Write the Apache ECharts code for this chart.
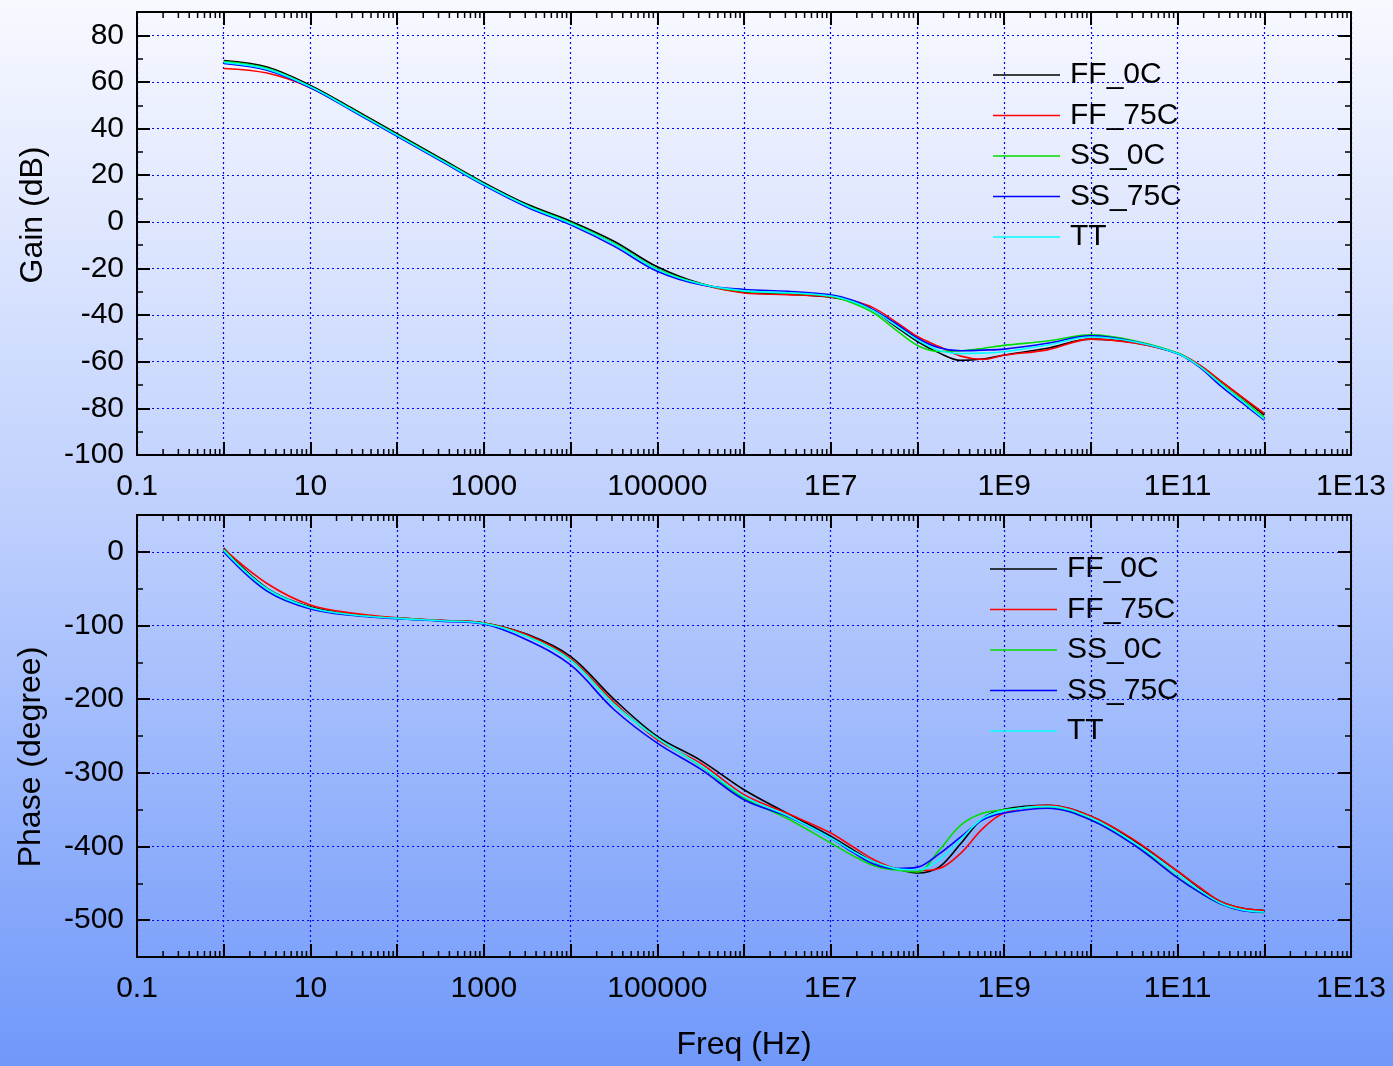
<!DOCTYPE html>
<html><head><meta charset="utf-8">
<script src="https://cdn.jsdelivr.net/npm/echarts@6/dist/echarts.min.js"></script>
<style>html,body{margin:0;padding:0;background:#fff;} #c{width:1393px;height:1066px;}</style>
</head><body><div id="c"></div>
<script>
// ---- data ----
const freq = [1, 3.162, 10, 31.62, 100, 316.2, 1000, 3162, 1e4, 3.162e4, 1e5, 3.162e5, 1e6, 3.162e6, 1e7, 1.778e7, 3.162e7, 5.623e7, 1e8, 1.778e8, 3.162e8, 5.623e8, 1e9, 3.162e9, 1e10, 3.162e10, 1e11, 1.778e11, 3.162e11, 5.623e11, 1e12];
const seriesNames = ['FF_0C', 'FF_75C', 'SS_0C', 'SS_75C', 'TT'];
const seriesColors = ['#000000', '#ff0000', '#00dd00', '#0000ff', '#00ffff'];

const gainFF0  = [69.2, 66.4, 58.5, 48.3, 37.8, 27.3, 16.8, 7.5, 0.3, -8.3, -19.3, -26.5, -30.2, -31.0, -32.3, -34.3, -38.2, -44.9, -51.3, -56.2, -59.4, -58.8, -57.1, -54.2, -50.3, -51.8, -56.4, -61.5, -68.4, -75.5, -82.9];
const gainFF75 = [65.8, 63.8, 57.5, 47.5, 37.0, 26.5, 16.0, 6.7, -0.8, -9.5, -20.5, -26.8, -30.5, -31.2, -32.2, -33.8, -37.0, -42.9, -49.2, -53.5, -57.6, -59.0, -57.2, -54.9, -50.3, -52.0, -56.4, -61.3, -68.3, -75.3, -82.2];
const gainSS0  = [68.8, 65.9, 58.0, 47.8, 37.3, 26.8, 16.3, 7.0, -0.4, -9.2, -20.2, -26.6, -29.8, -30.5, -32.0, -34.8, -39.2, -46.3, -53.0, -55.6, -55.3, -54.3, -53.0, -51.1, -48.5, -51.0, -56.3, -61.8, -69.3, -76.5, -84.0];
const gainSS75 = [67.9, 65.0, 57.5, 47.2, 36.7, 26.2, 15.7, 6.3, -1.3, -10.4, -21.2, -27.0, -29.0, -29.8, -31.3, -33.6, -37.9, -43.6, -49.9, -54.0, -55.3, -55.0, -54.6, -52.1, -48.9, -51.3, -56.6, -62.2, -70.5, -77.8, -85.0];
const gainTT   = [68.4, 65.5, 57.9, 47.6, 37.1, 26.6, 16.1, 6.8, -0.7, -9.5, -20.5, -26.7, -29.6, -30.4, -31.8, -34.2, -38.3, -44.4, -50.6, -55.2, -56.5, -56.3, -55.7, -52.8, -49.4, -51.4, -56.5, -61.9, -69.6, -77.0, -84.6];

const phFF0  = [5, -49.5, -74.5, -85.5, -90, -93, -96.5, -112, -142, -200, -250.5, -283, -323, -355, -386, -404, -421, -430, -436, -428, -396, -362, -349.5, -344, -359, -392, -433.6, -456, -475, -484, -487];
const phFF75 = [4, -43, -72.3, -83.5, -89.5, -93, -96.8, -113, -145, -204, -255, -287, -329.7, -355, -381.6, -400, -418, -430, -433, -430, -409, -376, -354.5, -344, -359, -391, -433.6, -455, -475, -484, -487];
const phSS0  = [3, -50.5, -75.8, -85.8, -90.3, -93.5, -97, -115, -147, -207, -253, -291, -334.2, -362, -395.2, -412, -426, -432, -434.6, -405, -371, -355, -350, -346, -363.6, -397, -442, -462, -478, -486.5, -490];
const phSS75 = [0, -53.3, -77.6, -86.5, -90.8, -94, -98, -119.7, -153.6, -214, -259.7, -295, -336.5, -359, -388.4, -407.5, -424, -430, -428, -410, -387, -364, -354.5, -348, -364, -398, -442.6, -462, -478, -487, -489];
const phTT   = [2, -50.5, -75.8, -85.8, -90.3, -93.5, -97.2, -115, -147, -207, -253, -290, -332, -358, -388.4, -406, -421, -430, -432, -418, -390, -362, -351.3, -345.5, -361, -395, -437, -459, -477, -486, -489];

const gainData = [gainFF0, gainFF75, gainSS0, gainSS75, gainTT];
const phaseData = [phFF0, phFF75, phSS0, phSS75, phTT];

// axis ranges and ticks
const gainRange = [-100, 90];
const phaseRange = [-550, 50];
const freqRange = [0.1, 1e13];
const minorFactors = [2, 3, 4, 5, 6, 7, 8, 9];
const decades = [-1, 0, 1, 2, 3, 4, 5, 6, 7, 8, 9, 10, 11, 12];

// ---- chart ----
const FONT = '"Liberation Sans", Arial, sans-serif';
const chart = echarts.init(document.getElementById('c'));

function freqLabel(v) {
  const e = Math.round(Math.log10(v));
  if (((e % 2) + 2) % 2 !== 1) return '';
  if (e <= 5) return e < 0 ? Math.pow(10, e).toFixed(-e) : String(Math.pow(10, e));
  return '1E' + e;
}

const gridLine = { show: true, lineStyle: { color: '#0000ff', width: 1.2, type: [2, 3] } };
const axisLineS = { show: true, onZero: false, lineStyle: { color: '#000', width: 2 } };

function xAxisDef(gridIndex, pos, labels) {
  return {
    type: 'log', logBase: 10, gridIndex: gridIndex, position: pos,
    min: freqRange[0], max: freqRange[1], interval: 1,
    axisLine: axisLineS,
    axisTick: { show: true, inside: true, length: 13, lineStyle: { color: '#000', width: 2 } },
    axisLabel: { show: labels, formatter: freqLabel, color: '#000', fontSize: 30, fontFamily: FONT, margin: 17 },
    splitLine: labels ? gridLine : { show: false },
    minorTick: { show: false }
  };
}

function yAxisDef(gridIndex, pos, labels, extra) {
  return Object.assign({
    type: 'value', gridIndex: gridIndex, position: pos,
    axisLine: axisLineS,
    axisTick: { show: true, inside: true, length: 13, lineStyle: { color: '#000', width: 2 } },
    axisLabel: { show: labels, color: '#000', fontSize: 30, fontFamily: FONT, margin: 13, showMaxLabel: false, showMinLabel: true },
    splitLine: labels ? gridLine : { show: false }
  }, extra);
}

const minorTickData = [];
decades.forEach(d => minorFactors.forEach(m => minorTickData.push([m * Math.pow(10, d), 0])));

function minorTickSeries(xi, yi) {
  return {
    type: 'custom', xAxisIndex: xi, yAxisIndex: yi, silent: true, z: 5,
    data: minorTickData,
    renderItem: function (params, api) {
      const x = api.coord([api.value(0), api.value(1)])[0];
      const cs = params.coordSys;
      return {
        type: 'group', children: [
          { type: 'line', shape: { x1: x, y1: cs.y + cs.height, x2: x, y2: cs.y + cs.height - 6 }, style: { stroke: '#000', lineWidth: 1.5 } },
          { type: 'line', shape: { x1: x, y1: cs.y, x2: x, y2: cs.y + 6 }, style: { stroke: '#000', lineWidth: 1.5 } }
        ]
      };
    }
  };
}

const series = [];
seriesNames.forEach((n, i) => {
  series.push({
    name: n, type: 'line', xAxisIndex: 0, yAxisIndex: 0, smooth: 0.35, showSymbol: false, symbol: 'none',
    lineStyle: { color: seriesColors[i], width: 1.6 }, itemStyle: { color: seriesColors[i] },
    data: freq.map((f, k) => [f, gainData[i][k]]), z: 3
  });
});
seriesNames.forEach((n, i) => {
  series.push({
    name: n, type: 'line', xAxisIndex: 2, yAxisIndex: 2, smooth: 0.35, showSymbol: false, symbol: 'none',
    lineStyle: { color: seriesColors[i], width: 1.6 }, itemStyle: { color: seriesColors[i] },
    data: freq.map((f, k) => [f, phaseData[i][k]]), z: 3
  });
});
series.push(minorTickSeries(0, 0));
series.push(minorTickSeries(2, 2));

const legendCommon = {
  orient: 'vertical', itemWidth: 67, itemHeight: 14, itemGap: 10.5, padding: 0,
  icon: 'path://M0,0 L100,0 L100,2 L0,2 Z',
  textStyle: { fontSize: 30, fontFamily: FONT, color: '#000', lineHeight: 30, padding: [0, 0, 0, 5] },
  data: seriesNames, selectedMode: false
};

const option = {
  animation: false,
  backgroundColor: {
    type: 'linear', x: 0, y: 0, x2: 0, y2: 1,
    colorStops: [{ offset: 0, color: '#f8f9ff' }, { offset: 0.5, color: '#bccefd' }, { offset: 1, color: '#6f98fa' }]
  },
  textStyle: { fontFamily: FONT },
  grid: [
    { left: 137, top: 12, width: 1214, height: 443, containLabel: false },
    { left: 137, top: 515, width: 1214, height: 442, containLabel: false }
  ],
  legend: [
    Object.assign({ left: 993, top: 60 }, legendCommon),
    Object.assign({ left: 990, top: 554 }, legendCommon)
  ],
  xAxis: [
    xAxisDef(0, 'bottom', true),
    xAxisDef(0, 'top', false),
    xAxisDef(1, 'bottom', true),
    xAxisDef(1, 'top', false)
  ],
  yAxis: [
    yAxisDef(0, 'left', true, { min: gainRange[0], max: gainRange[1], interval: 20,
      minorTick: { show: true, splitNumber: 2, length: 6, lineStyle: { color: '#000', width: 1.5 } } }),
    yAxisDef(0, 'right', false, { min: gainRange[0], max: gainRange[1], interval: 20,
      minorTick: { show: true, splitNumber: 2, length: 6, lineStyle: { color: '#000', width: 1.5 } } }),
    yAxisDef(1, 'left', true, { min: phaseRange[0], max: phaseRange[1], splitNumber: 6,
      axisLabel: { show: true, color: '#000', fontSize: 30, fontFamily: FONT, margin: 13, showMaxLabel: false, showMinLabel: false } }),
    yAxisDef(1, 'right', false, { min: phaseRange[0], max: phaseRange[1], splitNumber: 6 }),
    yAxisDef(1, 'left', false, { min: phaseRange[0], max: phaseRange[1], interval: 50, axisLine: { show: false },
      axisTick: { show: true, inside: true, length: 6, lineStyle: { color: '#000', width: 1.5 } } }),
    yAxisDef(1, 'right', false, { min: phaseRange[0], max: phaseRange[1], interval: 50, axisLine: { show: false },
      axisTick: { show: true, inside: true, length: 6, lineStyle: { color: '#000', width: 1.5 } } })
  ],
  graphic: [
    { type: 'text', x: 33, y: 215, rotation: Math.PI / 2, style: { text: 'Gain (dB)', fontSize: 32, fontFamily: FONT, fill: '#000', align: 'center', verticalAlign: 'middle' } },
    { type: 'text', x: 31, y: 757, rotation: Math.PI / 2, style: { text: 'Phase (degree)', fontSize: 32, fontFamily: FONT, fill: '#000', align: 'center', verticalAlign: 'middle' } },
    { type: 'text', x: 744, y: 1045, style: { text: 'Freq (Hz)', fontSize: 32, fontFamily: FONT, fill: '#000', align: 'center', verticalAlign: 'middle' } }
  ],
  series: series
};
chart.setOption(option);
</script>
</body></html>
